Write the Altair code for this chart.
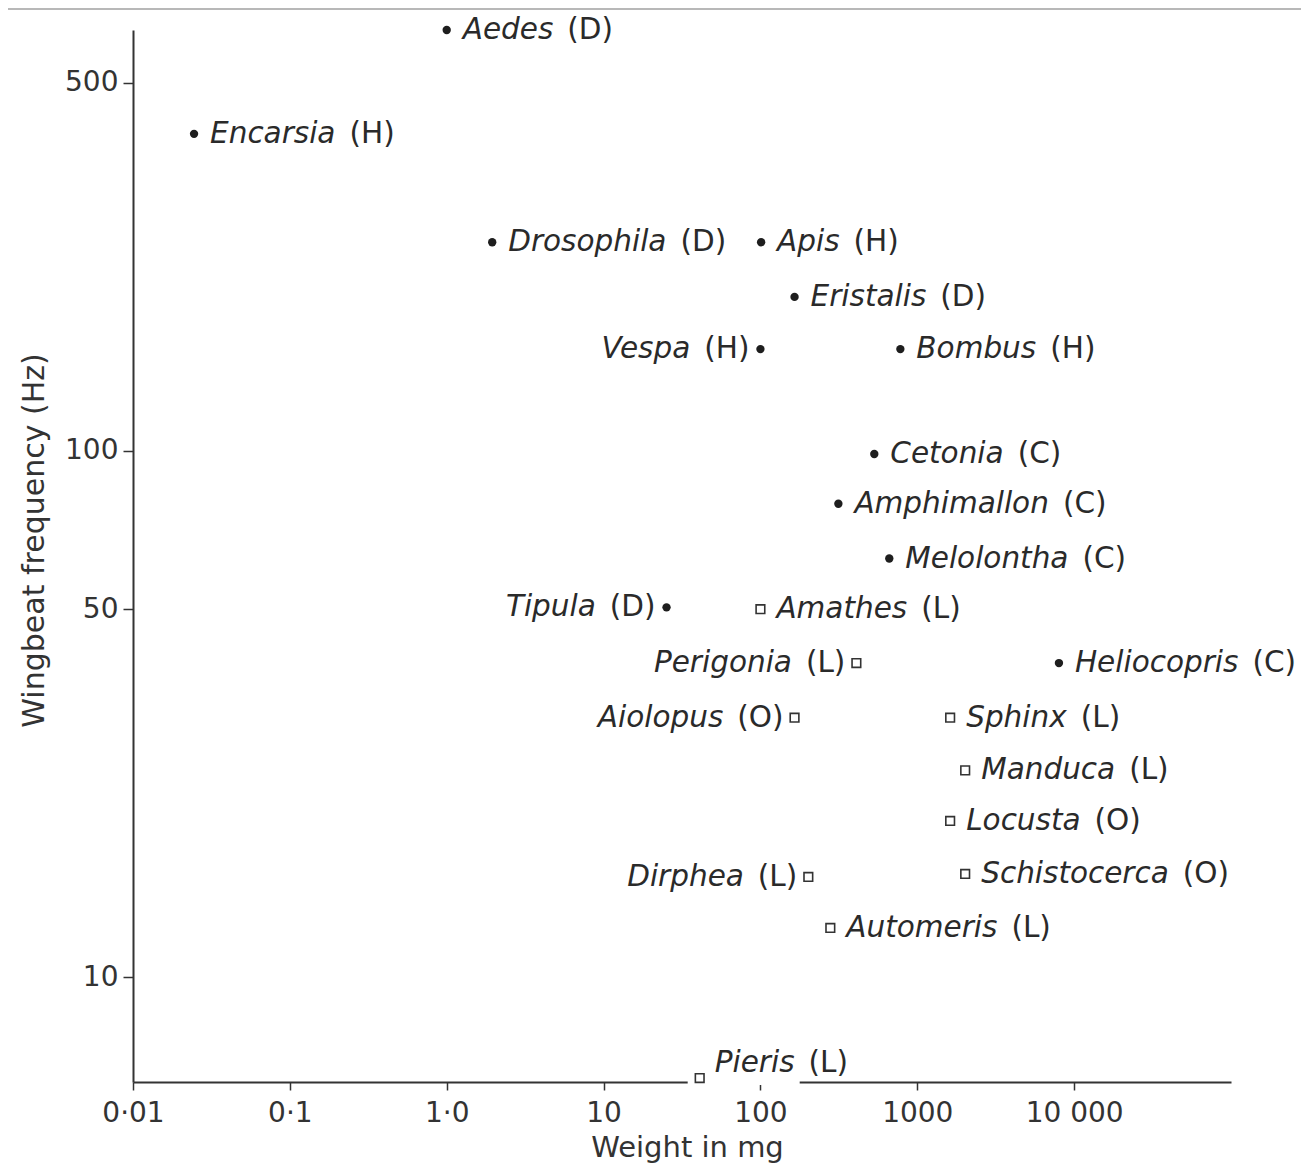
import math
import altair as alt
import pandas as pd

# ---------------- data ----------------
genus = ["Aedes", "Encarsia", "Drosophila", "Apis", "Eristalis", "Vespa", "Bombus",
         "Cetonia", "Amphimallon", "Melolontha", "Tipula", "Amathes", "Perigonia",
         "Heliocopris", "Aiolopus", "Sphinx", "Manduca", "Locusta", "Dirphea",
         "Schistocerca", "Automeris", "Pieris"]
order = ["D", "H", "D", "H", "D", "H", "H", "C", "C", "C", "D", "L", "L",
         "C", "O", "L", "L", "O", "L", "O", "L", "L"]
weight_mg = [1.0, 0.0245, 1.95, 101, 165, 100, 780, 532, 314, 663, 25.2, 100, 409,
             8000, 165, 1620, 2020, 1620, 202, 2020, 279, 41]
freq_hz = [630, 400, 249, 249, 196, 156, 156, 98.6, 79.3, 62.4, 50.4, 50, 39.5,
           39.5, 31.1, 31.1, 24.7, 19.8, 15.5, 15.7, 12.4, 6.43]
label_side = ["right", "right", "right", "right", "right", "left", "right",
              "right", "right", "right", "left", "right", "left",
              "right", "left", "right", "right", "right", "left",
              "right", "right", "above"]

x_ticks = [0.01, 0.1, 1, 10, 100, 1000, 10000]
x_tick_labels = ["0·01", "0·1", "1·0", "10", "100", "1000", "10 000"]
y_ticks = [10, 50, 100, 500]

X_DOMAIN = [0.01, 100000]
Y_DOMAIN = [6.32, 630]

# ---------------- layout ----------------
W, H = 1098, 1052
PPD_X = W / (math.log10(X_DOMAIN[1]) - math.log10(X_DOMAIN[0]))
PPD_Y = H / (math.log10(Y_DOMAIN[1]) - math.log10(Y_DOMAIN[0]))
FONT = "DejaVu Sans"
FS = 29.5
TXT = "#2a2a2a"

# DejaVu Sans advance widths (em) to place the upright "(X)" after the italic name
CW = {' ': 0.318, '(': 0.390, ')': 0.390,
      'A': 0.684, 'B': 0.686, 'C': 0.698, 'D': 0.770, 'E': 0.632, 'F': 0.575, 'G': 0.775,
      'H': 0.752, 'I': 0.295, 'J': 0.295, 'K': 0.656, 'L': 0.557, 'M': 0.863, 'N': 0.748,
      'O': 0.787, 'P': 0.603, 'Q': 0.787, 'R': 0.695, 'S': 0.635, 'T': 0.611, 'U': 0.732,
      'V': 0.684, 'W': 0.989, 'X': 0.685, 'Y': 0.611, 'Z': 0.685,
      'a': 0.613, 'b': 0.635, 'c': 0.550, 'd': 0.635, 'e': 0.615, 'f': 0.352, 'g': 0.635,
      'h': 0.634, 'i': 0.278, 'j': 0.278, 'k': 0.579, 'l': 0.278, 'm': 0.974, 'n': 0.634,
      'o': 0.612, 'p': 0.635, 'q': 0.635, 'r': 0.411, 's': 0.521, 't': 0.392, 'u': 0.634,
      'v': 0.592, 'w': 0.818, 'x': 0.592, 'y': 0.592, 'z': 0.525}


def tw(s):
    return sum(CW.get(c, 0.6) for c in s) * FS


GAP_R, GAP_L, SEP = 16, 11, 14
rows = []
for g, o, w, f, s in zip(genus, order, weight_mg, freq_hz, label_side):
    otext = "(" + o + ")"
    if s == "left":
        odx = -GAP_L
        ndx = -(GAP_L + tw(otext) + SEP)
        lift = 0
    elif s == "above":
        ndx = 15
        odx = ndx + tw(g) + SEP
        lift = 15
    else:
        ndx = GAP_R
        odx = ndx + tw(g) + SEP
        lift = 0
    rows.append(dict(genus=g, otext=otext, weight=w, freq=f, side=s,
                     marker="square" if o in ("L", "O") else "dot",
                     ndx=ndx, odx=odx, lift=lift))
df = pd.DataFrame(rows)

label_expr = " : ".join(
    f"datum.value == {v} ? '{t}'" for v, t in zip(x_ticks, x_tick_labels)) + " : ''"

xs = alt.Scale(type="log", domain=X_DOMAIN, nice=False)
ys = alt.Scale(type="log", domain=Y_DOMAIN, nice=False)

x_axis = alt.Axis(values=x_ticks, labelExpr=label_expr, title="Weight in mg", grid=False,
                  domainColor="#333", domainWidth=2, tickColor="#333", tickWidth=1.5,
                  tickSize=8, labelFont=FONT, labelFontSize=28, labelColor="#333",
                  labelPadding=9, labelFlush=False, labelOverlap=False,
                  titleFont=FONT, titleFontSize=29, titleFontWeight="normal",
                  titleColor="#333", titleX=554, titleY=74, titleBaseline="alphabetic",
                  titleAlign="center")
y_axis = alt.Axis(values=y_ticks, title="Wingbeat frequency (Hz)", grid=False,
                  domainColor="#333", domainWidth=2, tickColor="#333", tickWidth=1.5,
                  tickSize=10, labelFont=FONT, labelFontSize=28, labelColor="#333",
                  labelPadding=5, labelFlush=False, labelOverlap=False,
                  titleFont=FONT, titleFontSize=30, titleFontWeight="normal",
                  titleColor="#333", titleAngle=270, titleX=-99, titleY=510,
                  titleAlign="center", titleBaseline="middle")

base = alt.Chart(df)

calc = dict(
    xn=f"datum.weight * pow(10, datum.ndx / {PPD_X})",
    xo=f"datum.weight * pow(10, datum.odx / {PPD_X})",
    yl=f"datum.freq * pow(10, datum.lift / {PPD_Y})",
    gx1=f"datum.weight * pow(10, -12 / {PPD_X})",
    gx2=f"datum.weight * pow(10, 100 / {PPD_X})",
)

# break in the x axis behind the Pieris label
gap = base.transform_filter("datum.side == 'above'").transform_calculate(**calc).mark_rect(
    color="white").encode(
    x=alt.X("gx1:Q", scale=xs, axis=x_axis), x2="gx2:Q",
    y=alt.value(H - 4), y2=alt.value(H + 3))

dots = base.transform_filter("datum.marker == 'dot'").mark_point(
    shape="circle", filled=True, size=70, color="#1e1e1e", opacity=1).encode(
    x=alt.X("weight:Q", scale=xs, axis=x_axis),
    y=alt.Y("freq:Q", scale=ys, axis=y_axis))

squares = base.transform_filter("datum.marker == 'square'").mark_point(
    shape="square", filled=False, size=75, stroke="#333", strokeWidth=1.6,
    opacity=1).encode(
    x=alt.X("weight:Q", scale=xs, axis=x_axis),
    y=alt.Y("freq:Q", scale=ys, axis=y_axis))


def text_layer(cond, field, xfield, align, italic):
    kw = dict(align=align, baseline="middle", font=FONT, fontSize=FS, color=TXT)
    if italic:
        kw["fontStyle"] = "italic"
    return base.transform_filter(cond).transform_calculate(**calc).mark_text(**kw).encode(
        x=alt.X(f"{xfield}:Q", scale=xs, axis=x_axis),
        y=alt.Y("yl:Q", scale=ys, axis=y_axis),
        text=f"{field}:N")


names_r = text_layer("datum.side != 'left'", "genus", "xn", "left", True)
orders_r = text_layer("datum.side != 'left'", "otext", "xo", "left", False)
names_l = text_layer("datum.side == 'left'", "genus", "xn", "right", True)
orders_l = text_layer("datum.side == 'left'", "otext", "xo", "right", False)

top_line = alt.Chart(pd.DataFrame({"a": [0]})).mark_rule(
    color="#b8b8b8", strokeWidth=2).encode(
    x=alt.value(-140), x2=alt.value(W + 90), y=alt.value(-21))

chart = alt.layer(top_line, gap, dots, squares, names_r, orders_r, names_l, orders_l).properties(
    width=W, height=H,
    autosize=alt.AutoSizeParams(type="none"),
    padding={"left": 125, "top": 22, "right": 70, "bottom": 83},
    background="white",
).configure_view(stroke=None)

chart.save("out.html", embed_options={"renderer": "svg", "actions": False})
